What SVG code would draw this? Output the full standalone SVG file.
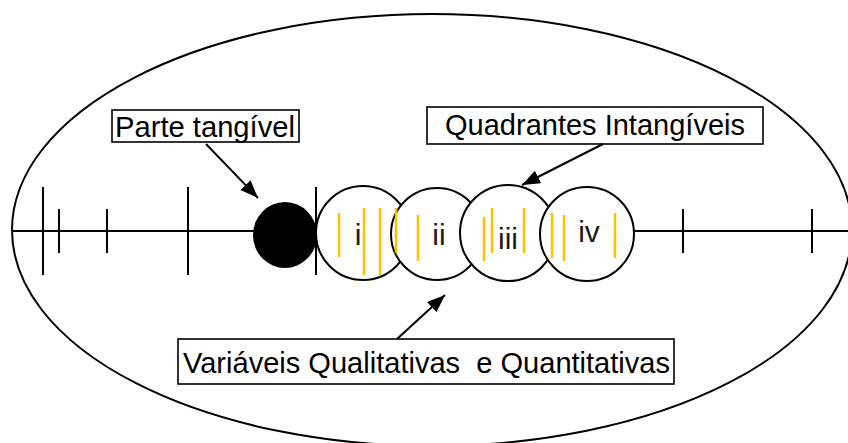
<svg xmlns="http://www.w3.org/2000/svg" width="848" height="443" viewBox="0 0 848 443">
<defs>
<marker id="ah" markerUnits="userSpaceOnUse" markerWidth="20" markerHeight="16" refX="18" refY="7" orient="auto">
<path d="M0,0 L18,7 L0,14 z" fill="#000"/>
</marker>
<style>
.ln{stroke:#000;stroke-width:2;fill:none}
.c{stroke:#000;stroke-width:2;fill:#fff}
.y{stroke:#FFC000;stroke-width:2.5}
.box{fill:#fff;stroke:#000;stroke-width:1.6}
.t{font-family:"Liberation Sans",Arial,sans-serif;font-size:29px;fill:#000}
.n{font-family:"Liberation Sans",Arial,sans-serif;font-size:30px;fill:#1a1a1a;text-anchor:middle}
</style>
</defs>
<rect width="848" height="443" fill="#fff"/>
<ellipse cx="432" cy="230" rx="420" ry="216" class="ln"/>
<g id="axis">
<line x1="12" y1="231" x2="848" y2="231" class="ln"/>
<line x1="43" y1="187" x2="43" y2="275" class="ln"/>
<line x1="59" y1="209" x2="59" y2="253" class="ln"/>
<line x1="107" y1="209" x2="107" y2="253" class="ln"/>
<line x1="188" y1="187" x2="188" y2="275" class="ln"/>
<line x1="683" y1="209" x2="683" y2="253" class="ln"/>
<line x1="812" y1="209" x2="812" y2="253" class="ln"/>
</g>
<g id="tangible">
<ellipse cx="285" cy="235" rx="32" ry="33" fill="#000"/>
</g>
<g id="q1"><circle cx="363" cy="233" r="47" class="c"/></g>
<g id="q2"><circle cx="437" cy="234" r="46" class="c"/></g>
<g id="q3"><circle cx="508" cy="233" r="48" class="c"/></g>
<g id="q4"><circle cx="587" cy="234" r="47" class="c"/></g>
<line x1="316" y1="187" x2="316" y2="275" class="ln"/>
<g id="yellow">
<line x1="339" y1="213" x2="339" y2="257" class="y"/>
<line x1="364" y1="208" x2="364" y2="275" class="y"/>
<line x1="380" y1="208" x2="380" y2="275" class="y"/>
<line x1="396" y1="208" x2="396" y2="253" class="y"/>
<line x1="418" y1="215" x2="418" y2="261" class="y"/>
<line x1="484" y1="217" x2="484" y2="261" class="y"/>
<line x1="492" y1="208" x2="492" y2="253" class="y"/>
<line x1="524" y1="208" x2="524" y2="253" class="y"/>
<line x1="552" y1="213" x2="552" y2="258" class="y"/>
<line x1="564" y1="215" x2="564" y2="261" class="y"/>
<line x1="615" y1="213" x2="615" y2="258" class="y"/>
</g>
<g id="labels">
<text x="358" y="245" class="n">i</text>
<text x="439" y="245" class="n">ii</text>
<text x="508" y="249" class="n">iii</text>
<text x="589" y="242" class="n">iv</text>
</g>
<g id="box-tangivel">
<rect x="112" y="110" width="187" height="32" class="box"/>
<text x="115" y="137" class="t" font-size="27" textLength="180" lengthAdjust="spacingAndGlyphs">Parte tangível</text>
</g>
<g id="box-quadrantes">
<rect x="427" y="107" width="336" height="37" class="box"/>
<text x="445" y="135" class="t" font-size="28" textLength="300" lengthAdjust="spacingAndGlyphs">Quadrantes Intangíveis</text>
</g>
<g id="box-variaveis">
<rect x="178" y="339" width="496" height="45" class="box"/>
<text x="183" y="373" class="t" textLength="487" lengthAdjust="spacingAndGlyphs" xml:space="preserve">Variáveis Qualitativas  e Quantitativas</text>
</g>
<g id="connectors">
<line x1="206" y1="144" x2="258" y2="198" class="ln" marker-end="url(#ah)"/>
<line x1="603" y1="144" x2="522" y2="185" class="ln" marker-end="url(#ah)"/>
<line x1="397" y1="339" x2="445" y2="295" class="ln" marker-end="url(#ah)"/>
</g>
</svg>
